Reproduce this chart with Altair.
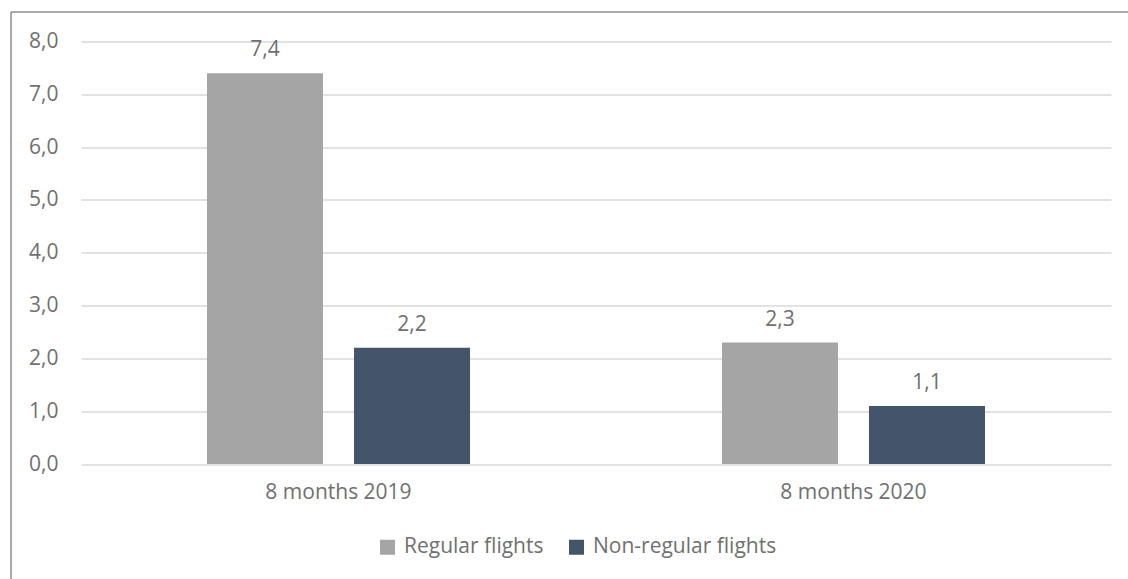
import altair as alt
import pandas as pd

# Passenger flights, millions
periods = ["8 months 2019", "8 months 2020"]
series = ["Regular flights", "Non-regular flights"]
regular = [7.4, 2.3]
non_regular = [2.2, 1.1]
colors = ["#A5A5A5", "#44546A"]

rows = []
for i, p in enumerate(periods):
    for s, vals in zip(series, [regular, non_regular]):
        v = vals[i]
        rows.append({"period": p, "series": s, "value": v,
                     "label": f"{v:.1f}".replace(".", ",")})
df = pd.DataFrame(rows)

FONT = "Open Sans"
FS = 21
TXT = "#707070"
GRID = "#D9D9D9"

base = alt.Chart(df).encode(
    x=alt.X("period:N", sort=periods,
            scale=alt.Scale(paddingInner=0, paddingOuter=0),
            axis=alt.Axis(title=None, labelAngle=0, ticks=False, domain=False,
                          labelPadding=17, labelFontSize=FS, labelColor=TXT,
                          labelFont=FONT)),
    xOffset=alt.XOffset("series:N", sort=series,
                        scale=alt.Scale(paddingInner=0.211, paddingOuter=0.857)),
)

bars = base.mark_bar().encode(
    y=alt.Y("value:Q", scale=alt.Scale(domain=[0, 8], nice=False),
            axis=alt.Axis(title=None, values=list(range(9)), ticks=False,
                          domain=False, grid=True, gridColor=GRID, gridWidth=1.5,
                          labelExpr="replace(format(datum.value, '.1f'), '.', ',')",
                          labelPadding=23, labelFontSize=FS, labelColor=TXT,
                          labelFont=FONT)),
    color=alt.Color("series:N", sort=series,
                    scale=alt.Scale(domain=series, range=colors),
                    legend=alt.Legend(title=None, orient="none", direction="horizontal",
                                      legendX=296, legendY=495,
                                      symbolType="square", symbolSize=225,
                                      symbolStrokeWidth=0, labelFontSize=FS,
                                      labelColor=TXT, labelFont=FONT,
                                      labelLimit=0, labelOffset=6, columnPadding=22)),
)

labels = base.mark_text(dy=-17, baseline="alphabetic", fontSize=FS,
                        color=TXT, font=FONT).encode(
    y=alt.Y("value:Q"),
    text="label:N",
)

# Outer frame of the chart area (top and left edges)
frame_df = pd.DataFrame({"k": [0]})
frame_left = alt.Chart(frame_df).mark_rule(color="#8c8c8c", strokeWidth=1.5).encode(
    x=alt.value(-70), y=alt.value(-29.5), y2=alt.value(600))
frame_top = alt.Chart(frame_df).mark_rule(color="#8c8c8c", strokeWidth=1.5).encode(
    x=alt.value(-70), x2=alt.value(1200), y=alt.value(-29.5))

chart = alt.layer(bars, labels, frame_left, frame_top).properties(
    width=1030, height=422.5,
    autosize=alt.AutoSizeParams(type="none"),
    padding={"left": 81, "top": 41.5, "right": 17, "bottom": 115},
    background="white",
).configure_view(stroke=None)

chart.save("out.html", embed_options={"renderer": "svg", "actions": False})
